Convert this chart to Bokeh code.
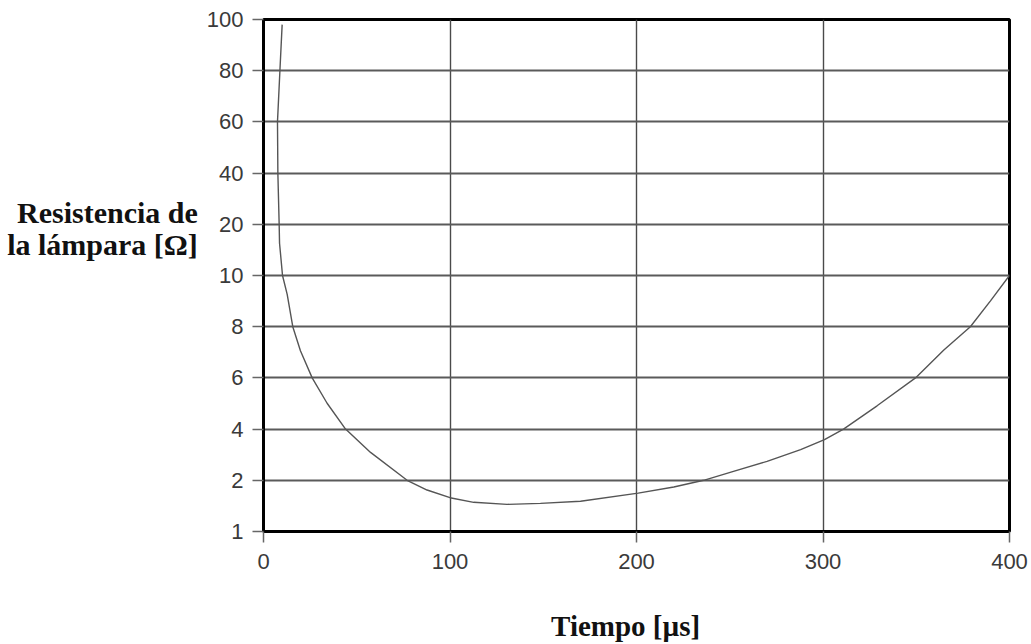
import numpy as np
from bokeh.plotting import figure
from bokeh.models import Range1d, FixedTicker
from bokeh.embed import file_html
from bokeh.resources import INLINE

# Data
tiempo_us = [10, 8.8, 7.5, 7.7, 8.4, 8.6, 10.2, 12.7, 15.7, 19.8, 26.1, 34.1, 44, 57.4,
             77, 87.7, 100, 112.7, 130.6, 148.5, 170, 200.9, 220, 236, 252, 270,
             288, 300.8, 311, 329, 349.6, 364.8, 379, 389.8, 400]
resistencia_ohm = [98, 80, 60, 40, 20, 16.3, 10, 9.26, 8, 7.06, 6, 5.01, 4, 3.09,
                   2, 1.81, 1.66, 1.57, 1.53, 1.55, 1.59, 1.75, 1.87, 2, 2.35, 2.74,
                   3.2, 3.59, 4, 4.91, 6, 7.09, 8, 9.01, 10]

# Non-uniform vertical scale of the original chart
y_tick_values = [1, 2, 4, 6, 8, 10, 20, 40, 60, 80, 100]
x_tick_values = [0, 100, 200, 300, 400]

y_title = "Resistencia de\nla lámpara [Ω]\n\u00a0\n\u00a0\n\u00a0"
x_title = "Tiempo [µs]\u00a0\u00a0\u00a0"

y_positions = list(range(len(y_tick_values)))
y_mapped = np.interp(resistencia_ohm, y_tick_values, y_positions)

p = figure(width=1031, height=644, output_backend="svg", toolbar_location=None,
           x_range=Range1d(0, 400), y_range=Range1d(0, len(y_tick_values) - 1),
           min_border_left=263, min_border_right=22, min_border_top=19,
           min_border_bottom=112)
p.background_fill_color = "white"
p.border_fill_color = "white"
p.outline_line_color = "black"
p.outline_line_width = 3

p.line(tiempo_us, y_mapped, line_color="#555555", line_width=1.4)

# axes
p.yaxis.ticker = FixedTicker(ticks=y_positions)
p.yaxis.major_label_overrides = {i: str(v) for i, v in zip(y_positions, y_tick_values)}
p.xaxis.ticker = FixedTicker(ticks=x_tick_values)
for ax in (p.xaxis, p.yaxis):
    ax.axis_line_color = "black"
    ax.axis_line_width = 3
    ax.major_tick_line_color = "#666666"
    ax.major_tick_line_width = 1.5
    ax.major_tick_in = 0
    ax.major_tick_out = 11
    ax.minor_tick_line_color = None
    ax.major_label_text_font = "Liberation Sans"
    ax.major_label_text_font_size = "22px"
    ax.major_label_text_color = "#3a3a3a"
    ax.axis_label_text_font = "Liberation Serif"
    ax.axis_label_text_font_style = "bold"
    ax.axis_label_text_color = "#111111"
p.yaxis.major_label_standoff = 9
p.xaxis.major_label_standoff = 11

p.yaxis.axis_label = y_title
p.yaxis.axis_label_orientation = "horizontal"
p.yaxis.axis_label_text_align = "left"
p.yaxis.axis_label_text_font_size = "30px"
p.yaxis.axis_label_text_line_height = 0.95
p.yaxis.axis_label_standoff = 6

p.xaxis.axis_label = x_title
p.xaxis.axis_label_text_font_size = "29px"
p.xaxis.axis_label_standoff = 38

p.ygrid.ticker = FixedTicker(ticks=y_positions[1:-1])
p.ygrid.grid_line_color = "#5a5a5a"
p.ygrid.grid_line_width = 2
p.xgrid.ticker = FixedTicker(ticks=x_tick_values[1:-1])
p.xgrid.grid_line_color = "#4a4a4a"
p.xgrid.grid_line_width = 1.4

open("out.html", "w").write(file_html(p, INLINE))
